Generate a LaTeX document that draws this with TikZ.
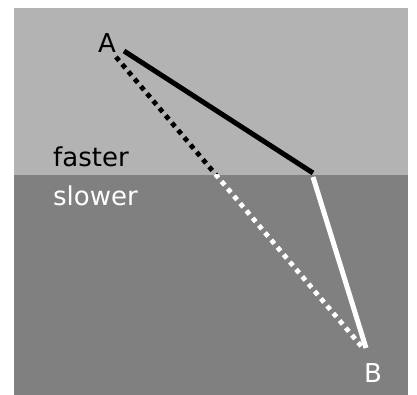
\documentclass[tikz,border=0pt]{standalone}
\usepackage{fontspec}
\setmainfont{DejaVu Sans}
\definecolor{lightbg}{RGB}{179,179,179}
\definecolor{darkbg}{RGB}{128,128,128}
\tikzset{
  lbl/.style={anchor=base west, inner sep=0pt, font=\fontsize{26}{31}\selectfont},
  ray/.style={line width=5pt},
  dotray/.style={line width=4.8pt, dash pattern=on 4.8pt off 4.8pt},
}
\begin{document}
\begin{tikzpicture}[x=1pt,y=1pt]
\useasboundingbox (0,0) rectangle (417,395);
% media
\fill[darkbg] (14,0) rectangle (408,220);
\fill[lightbg] (14,220) rectangle (408,387);
% coordinates
\coordinate (As) at (124,344);
\coordinate (Ad) at (116,338);
\coordinate (Pt) at (313,222);
\coordinate (Pb) at (313,218);
\coordinate (Bs) at (366,47);
\coordinate (Bd) at (362,48);
% solid path
\draw[ray, black] (As) -- (Pt);
\draw[ray, white] (Pb) -- (Bs);
% straight dotted path
\begin{scope}
  \clip (14,220) rectangle (408,387);
  \draw[dotray, black] (Ad) -- (Bd);
\end{scope}
\begin{scope}
  \clip (14,0) rectangle (408,220);
  \draw[dotray, white] (Ad) -- (Bd);
\end{scope}
% labels
\node[lbl, text=black] (lA) at (98,342) {A};
\node[lbl, text=white] (lB) at (364,12) {B};
\node[lbl, text=black] (lf) at (53,228) {faster};
\node[lbl, text=white] (ls) at (53,189) {slower};
\end{tikzpicture}
\end{document}
